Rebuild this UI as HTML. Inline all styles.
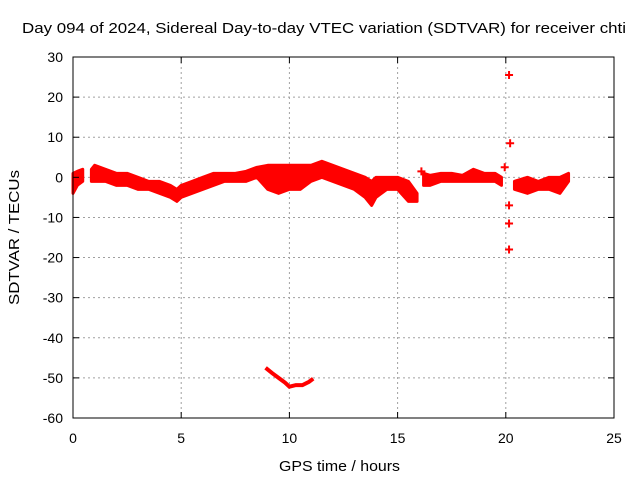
<!DOCTYPE html>
<html><head><meta charset="utf-8"><style>
body{margin:0;background:#fff;}
svg{display:block;font-family:"Liberation Sans",sans-serif;}
</style></head><body>
<svg id="chart" width="640" height="480">
<text x="22" y="33" font-size="15" textLength="604" lengthAdjust="spacingAndGlyphs">Day 094 of 2024, Sidereal Day-to-day VTEC variation (SDTVAR) for receiver chti</text>
<text x="279" y="471" font-size="15" textLength="121" lengthAdjust="spacingAndGlyphs">GPS time / hours</text>
<text transform="translate(19,305) rotate(-90)" font-size="15" textLength="135" lengthAdjust="spacingAndGlyphs">SDTVAR / TECUs</text>
<g id="grid"></g><g id="marks"></g><g id="axes"></g>
</svg>
<script>
const xTicks=[0,5,10,15,20,25];
const yTicks=[30,20,10,0,-10,-20,-30,-40,-50,-60];
const bandA_t=[0,0.2,0.45];
const bandA_lo=[-4,-2,-1];
const bandA_hi=[1,1.5,2];
const band_t=[0.85,1.0,1.5,2.0,2.5,3.0,3.5,4.0,4.5,4.8,5.0,5.5,6.0,6.5,7.0,7.5,8.0,8.5,9.0,9.5,10.0,10.5,11.0,11.5,12.0,12.5,13.0,13.5,13.8,14.0,14.5,15.0,15.5,15.9];
const band_lo=[-1,-1,-1,-2,-2,-3,-3,-4,-5,-6,-5,-4,-3,-2,-1,-1,-1,0,-3,-4,-3,-3,-1,0,-1,-2,-3,-5,-7,-5,-3,-3,-6,-6];
const band_hi=[2,3,2,1,1,0,-1,-1,-2,-3,-2,-1,0,1,1,1,1.5,2.5,3,3,3,3,3,4,3,2,1,0,-1,0,0,0,-1,-4];
const bandB_t=[16.2,16.5,17.0,17.5,18.0,18.5,19.0,19.5,19.8];
const bandB_lo=[-2,-2,-1,-1,-1,-1,-1,-1,-2];
const bandB_hi=[1,0.5,1,1,0.5,2,1,1,0];
const bandC_t=[20.4,21.0,21.5,22.0,22.5,22.9];
const bandC_lo=[-3,-4,-3,-3,-4,-1];
const bandC_hi=[-1,0,-1,0,0,1];
const low_t=[8.9,9.2,9.5,9.8,10.0,10.3,10.6,10.9,11.1];
const low_v=[-47.5,-48.8,-50,-51.2,-52.2,-51.8,-51.8,-51,-50.2];
const out_t=[20.15,20.2,19.95,20.15,20.15,20.15,16.1];
const out_v=[25.5,8.5,2.5,-7,-11.5,-18,1.5];

const L=73,R=614,T=57,B=418;
const xs=v=>L+(v-0)/25*(R-L);
const ys=v=>T+(30-v)/90*(B-T);
const NS="http://www.w3.org/2000/svg";
function mk(tag,attrs,parent){const e=document.createElementNS(NS,tag);for(const k in attrs)e.setAttribute(k,attrs[k]);parent.appendChild(e);return e;}
const grid=document.getElementById('grid'),marks=document.getElementById('marks'),axes=document.getElementById('axes');
xTicks.forEach(t=>{
  if(t>0&&t<25){const g=mk('line',{x1:xs(t),x2:xs(t),y1:T,y2:B,stroke:'#a0a0a0','stroke-dasharray':'2,3'},grid);
  
  }
  const tl=mk('text',{x:xs(t),y:B+25,'font-size':14,'text-anchor':'middle'},axes);tl.textContent=t;
  
  
  mk('line',{x1:xs(t),x2:xs(t),y1:B,y2:B-6,stroke:'#000'},axes);
  mk('line',{x1:xs(t),x2:xs(t),y1:T,y2:T+6,stroke:'#000'},axes);
});
yTicks.forEach(t=>{
  if(t<30&&t>-60){const g=mk('line',{x1:L,x2:R,y1:ys(t),y2:ys(t),stroke:'#a0a0a0','stroke-dasharray':'2,3'},grid);
  
  }
  const tl=mk('text',{x:L-10,y:ys(t)+5,'font-size':14,'text-anchor':'end'},axes);tl.textContent=t;
  
  
  mk('line',{x1:L,x2:L+6,y1:ys(t),y2:ys(t),stroke:'#000'},axes);
  mk('line',{x1:R,x2:R-6,y1:ys(t),y2:ys(t),stroke:'#000'},axes);
});
const frame=mk('rect',{x:L,y:T,width:R-L,height:B-T,fill:'none',stroke:'#000'},axes);


function band(t,lo,hi){
  let p=t.map((x,i)=>xs(x)+','+ys(hi[i]));
  for(let i=t.length-1;i>=0;i--)p.push(xs(t[i])+','+ys(lo[i]));
  const e=mk('polygon',{points:p.join(' '),fill:'#ff0000',stroke:'#ff0000','stroke-width':3,'stroke-linejoin':'round'},marks);
  
  
}
band(bandA_t,bandA_lo,bandA_hi);band(band_t,band_lo,band_hi);band(bandB_t,bandB_lo,bandB_hi);band(bandC_t,bandC_lo,bandC_hi);
const low=mk('polyline',{points:low_t.map((x,i)=>xs(x)+','+ys(low_v[i])).join(' '),fill:'none',stroke:'#ff0000','stroke-width':4},marks);


out_t.forEach((x,i)=>{
  const cx=xs(x),cy=ys(out_v[i]);
  const p=mk('path',{d:`M${cx-4},${cy}h8M${cx},${cy-4}v8`,stroke:'#ff0000','stroke-width':2},marks);
  
  
});
</script>
</body></html>
